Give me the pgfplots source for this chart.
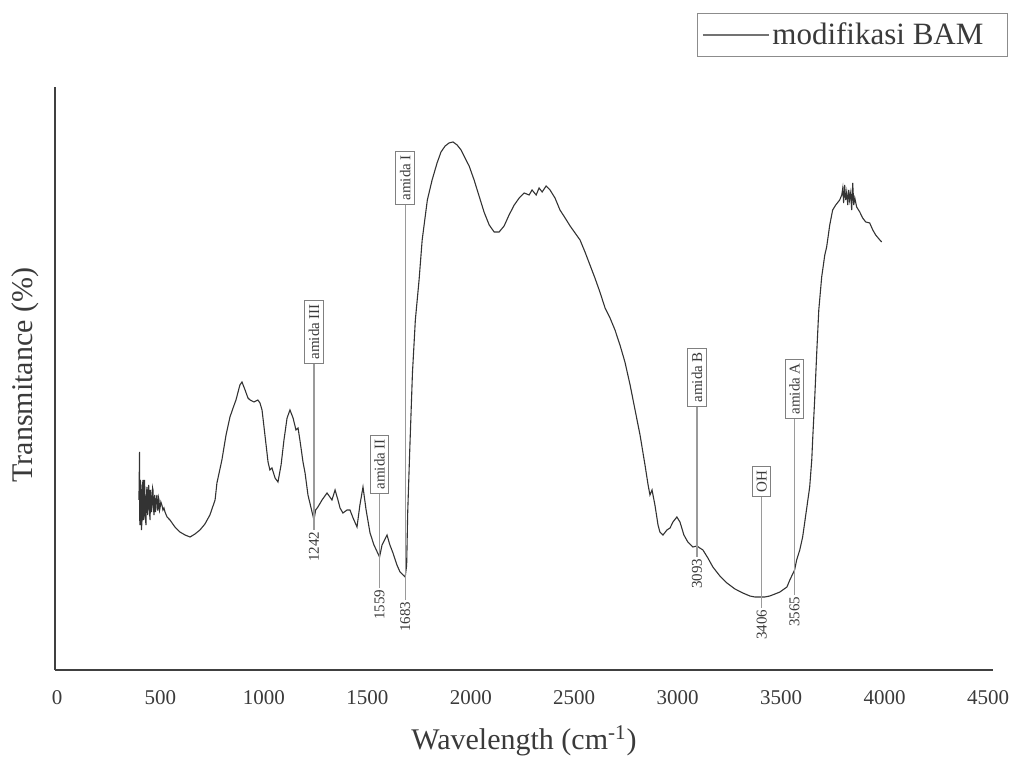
\documentclass[border=0pt]{standalone}
\usepackage{fontspec}
\setmainfont{Liberation Serif}
\usepackage{pgfplots}
\pgfplotsset{compat=1.18}
\usepackage{pgfplotstable}
\pgfplotstableread{
wn y
396 170
399 218
400 150
401 145
403 190
406 180
408 140
411 150
413 185
416 190
418 150
421 155
423 190
425 175
428 150
430 145
433 178
435 183
438 155
440 160
443 185
445 178
448 155
450 150
452 180
454 175
457 158
459 165
462 182
464 180
467 160
469 155
472 175
474 170
476 158
478 165
481 172
483 175
486 160
488 160
491 172
493 170
496 160
498 162
502 168
507 165
512 160
517 162
522 158
532 153
546 150
570 143
594 138
619 135
643 133
667 136
691 140
715 146
739 155
764 170
773 187
797 210
817 235
836 253
851 262
865 270
884 285
894 288
909 280
923 272
933 270
952 268
971 270
981 267
991 260
1005 235
1020 208
1029 200
1039 202
1054 192
1068 188
1083 205
1097 230
1112 252
1126 260
1141 252
1155 240
1165 242
1174 230
1189 208
1199 197
1213 175
1242 150
1250 160
1261 163
1281 170
1305 177
1319 173
1329 170
1344 180
1358 170
1368 162
1382 157
1402 160
1416 160
1431 152
1450 143
1464 165
1479 183
1494 160
1513 137
1532 125
1559 113
1571 125
1595 135
1609 125
1624 117
1643 105
1658 98
1683 93
1690 105
1695 157
1705 220
1718 297
1732 350
1750 390
1765 430
1790 470
1813 490
1837 507
1856 518
1876 524
1895 527
1914 528
1934 525
1953 520
1972 512
1992 504
2016 490
2040 474
2064 458
2089 445
2113 438
2137 438
2161 444
2185 455
2210 465
2234 472
2258 477
2282 475
2296 480
2316 475
2330 482
2345 478
2364 484
2383 480
2407 472
2431 460
2456 452
2480 444
2504 437
2528 430
2552 418
2576 405
2600 392
2624 378
2649 362
2673 352
2697 340
2721 325
2745 308
2770 285
2794 260
2818 235
2842 205
2857 185
2866 175
2876 180
2890 165
2905 145
2914 138
2929 135
2948 140
2963 142
2977 148
2996 153
3011 148
3030 135
3049 128
3073 123
3093 124
3107 122
3122 120
3146 112
3170 103
3204 94
3238 87
3277 81
3315 77
3349 74
3373 73
3406 73
3421 73
3445 74
3470 76
3494 78
3528 83
3542 90
3565 100
3575 110
3590 120
3604 133
3619 155
3638 183
3648 210
3653 233
3662 270
3672 317
3682 360
3696 393
3711 415
3720 423
3735 445
3749 460
3764 465
3783 470
3793 475
3798 482
3802 467
3807 485
3812 470
3817 478
3822 465
3827 480
3831 470
3836 477
3841 460
3846 487
3851 465
3856 472
3865 463
3880 458
3894 452
3909 448
3928 447
3943 440
3957 435
3977 430
3986 428
}\spectrum
\definecolor{txt}{HTML}{3A3A3A}
\definecolor{lead}{HTML}{9A9A9A}
\begin{document}
\begin{tikzpicture}
\path[use as bounding box] (0,0) rectangle (509.5pt,383.5pt);
\begin{axis}[
  at={(27.5pt,48.5pt)}, anchor=south west,
  scale only axis, width=469pt, height=291.5pt,
  xmin=-9.7, xmax=4524, ymin=0, ymax=583,
  axis x line=bottom, axis y line=left,
  axis line style={-, draw=black!75, line width=0.9pt},
  xtick={0,500,1000,1500,2000,2500,3000,3500,4000,4500},
  ytick=\empty,
  major tick length=0pt,
  /pgf/number format/assume math mode=true,
  /pgf/number format/1000 sep={},
  xticklabel style={font=\fontsize{10.5}{12}\selectfont, text=txt, yshift=-6.5pt},
  xlabel={Wavelength (cm\textsuperscript{-1})},
  ylabel={Transmitance (\%)},
  xlabel style={font=\fontsize{15}{18}\selectfont, text=txt, at={(axis description cs:0.5,-0.094)}, anchor=north, inner sep=0pt},
  ylabel style={font=\fontsize{15}{18}\selectfont, text=txt, at={(axis description cs:-0.017,0.506)}, anchor=south, inner sep=0pt},
  clip=false,
  legend style={at={(axis description cs:1.016,1.127)}, anchor=north east, draw=black!45, line width=0.6pt,
    font=\fontsize{15.5}{18}\selectfont, text=txt, inner xsep=2.5pt, inner ysep=2.5pt,
    nodes={inner xsep=1.5pt}},
  legend image code/.code={\draw[#1, draw=black!55] (0pt,0pt) -- (33pt,0pt);},
]
\addplot[black!80, line width=0.55pt] table[x=wn, y=y] {\spectrum};
\addlegendentry{modifikasi BAM\hspace*{8pt}}
% leader lines
\addplot[lead, line width=0.7pt, forget plot] coordinates {(1242,140) (1242,313)};
\addplot[lead, line width=0.7pt, forget plot] coordinates {(1559,82) (1559,183)};
\addplot[lead, line width=0.7pt, forget plot] coordinates {(1683,70) (1683,472)};
\addplot[lead, line width=0.7pt, forget plot] coordinates {(3093,113) (3093,270)};
\addplot[lead, line width=0.7pt, forget plot] coordinates {(3406,62) (3406,180)};
\addplot[lead, line width=0.7pt, forget plot] coordinates {(3565,75) (3565,258)};
% boxed labels
\tikzset{bx/.style={draw=black!50, line width=0.5pt, fill=white, rotate=90, anchor=west, inner sep=2pt, font=\fontsize{7.5}{9}\selectfont, text=txt, xshift=-3.5pt},
         nb/.style={rotate=90, anchor=east, inner sep=0.6pt, font=\fontsize{7.5}{9}\selectfont, text=txt}}
\node[bx] at (axis cs:1242,313) {amida III};
\node[bx] at (axis cs:1559,183) {amida II};
\node[bx] at (axis cs:1683,472) {amida I};
\node[bx] at (axis cs:3093,270) {amida B};
\node[bx] at (axis cs:3406,180) {OH};
\node[bx] at (axis cs:3565,258) {amida A};
\node[nb] at (axis cs:1242,140) {1242};
\node[nb] at (axis cs:1559,82) {1559};
\node[nb] at (axis cs:1683,70) {1683};
\node[nb] at (axis cs:3093,113) {3093};
\node[nb] at (axis cs:3406,62) {3406};
\node[nb] at (axis cs:3565,75) {3565};
\end{axis}
\end{tikzpicture}
\end{document}
